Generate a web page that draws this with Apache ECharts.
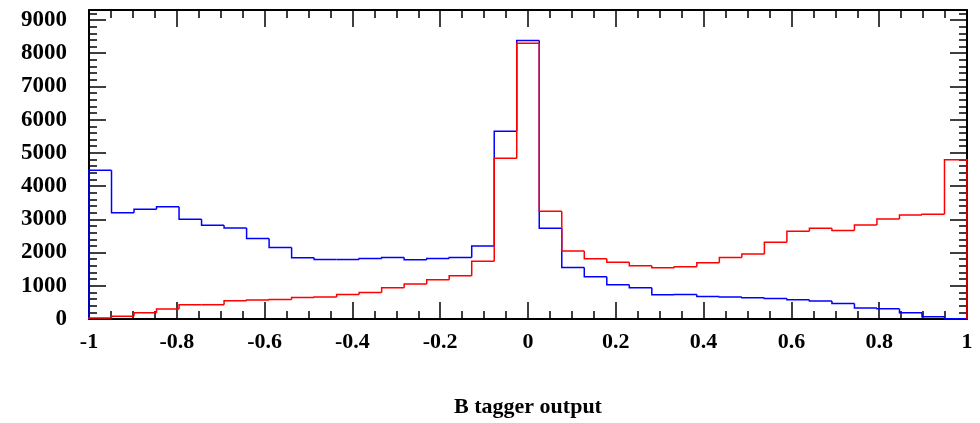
<!DOCTYPE html>
<html>
<head>
<meta charset="utf-8">
<script src="https://cdn.jsdelivr.net/npm/echarts@6/dist/echarts.min.js"></script>
<style>
  html, body { margin: 0; padding: 0; background: #fff; }
  #chart { width: 980px; height: 423px; }
</style>
</head>
<body>
<div id="chart"></div>
<script>
// histogram: 39 bins from -1 to 1
var xMin = -1;
var xMax = 1;
var nBins = 39;

var blueCounts = [4480, 3200, 3300, 3380, 3000, 2820, 2740, 2420, 2150, 1840,
                  1790, 1790, 1820, 1850, 1780, 1820, 1850, 2200, 5650, 8380,
                  2730, 1550, 1270, 1030, 940, 730, 740, 680, 660, 640,
                  620, 580, 540, 470, 330, 310, 190, 70, 10];
var redCounts = [30, 80, 190, 300, 430, 430, 550, 570, 590, 650,
                 660, 740, 800, 940, 1050, 1180, 1300, 1740, 4840, 8300,
                 3240, 2050, 1810, 1710, 1600, 1540, 1570, 1690, 1850, 1960,
                 2310, 2640, 2730, 2660, 2830, 3010, 3130, 3150, 4790];

var xTickLabels = ['-1', '-0.8', '-0.6', '-0.4', '-0.2', '0', '0.2', '0.4', '0.6', '0.8', '1'];
var yTickLabels = ['0', '1000', '2000', '3000', '4000', '5000', '6000', '7000', '8000', '9000'];

// one item per bin: [left edge, right edge, count, previous count, is last]
function binItems(counts){
    var w = (xMax - xMin) / nBins;
    var items = [];
    for (var i = 0; i < counts.length; i++) {
        items.push([xMin + i * w, xMin + (i + 1) * w, counts[i],
                    i > 0 ? counts[i - 1] : 0, i === counts.length - 1 ? 1 : 0]);
    }
    return items;
}

// ROOT style outline: rise/fall at the left edge, flat top, closed to zero at the end
function histRenderer(color){
    return function(params, api){
        var l = api.value(0), r = api.value(1), v = api.value(2), p = api.value(3);
        var pts = [api.coord([l, p]), api.coord([l, v]), api.coord([r, v])];
        if (api.value(4) === 1) pts.push(api.coord([r, 0]));
        return {
            type: 'polyline',
            shape: { points: pts },
            style: { stroke: color, lineWidth: 1.5, fill: null }
        };
    };
}

var font = 'Liberation Serif';
var black = '#000';

function frameX(pos, showLabels){
    return {
        type: 'value',
        position: pos,
        min: xMin,
        max: xMax,
        interval: 0.2,
        name: showLabels ? 'B tagger output' : '',
        nameLocation: 'middle',
        nameGap: 77,
        nameTextStyle: { fontFamily: font, fontWeight: 'bold', fontSize: 22, color: black },
        axisLine: { show: true, onZero: false, lineStyle: { color: black, width: 2 } },
        axisTick: { show: true, inside: true, length: 17, lineStyle: { color: black, width: 1.5 } },
        minorTick: { show: true, splitNumber: 4, length: 8, lineStyle: { color: black, width: 1.5 } },
        axisLabel: {
            show: showLabels,
            margin: 12,
            fontFamily: font, fontWeight: 'bold', fontSize: 22, color: black,
            formatter: function(v){
                var k = Math.round((v - xMin) / 0.2);
                return xTickLabels[k] !== undefined ? xTickLabels[k] : '';
            }
        },
        splitLine: { show: false },
        minorSplitLine: { show: false }
    };
}

function frameY(pos, showLabels){
    return {
        type: 'value',
        position: pos,
        min: 0,
        max: 9300,
        interval: 1000,
        axisLine: { show: true, onZero: false, lineStyle: { color: black, width: 2 } },
        axisTick: { show: true, inside: true, length: 17, lineStyle: { color: black, width: 1.5 } },
        minorTick: { show: true, splitNumber: 5, length: 8, lineStyle: { color: black, width: 1.5 } },
        axisLabel: {
            show: showLabels,
            margin: 22,
            showMaxLabel: false,
            fontFamily: font, fontWeight: 'bold', fontSize: 23, color: black,
            formatter: function(v){
                var k = Math.round(v / 1000);
                return yTickLabels[k] !== undefined ? yTickLabels[k] : '';
            }
        },
        splitLine: { show: false },
        minorSplitLine: { show: false }
    };
}

var chart = echarts.init(document.getElementById('chart'), null, { renderer: 'canvas' });

chart.setOption({
    animation: false,
    backgroundColor: '#fff',
    grid: { left: 89, right: 13, top: 10, bottom: 103 },
    xAxis: [frameX('bottom', true), frameX('top', false)],
    yAxis: [frameY('left', true), frameY('right', false)],
    series: [
        {
            type: 'custom',
            name: 'blue',
            xAxisIndex: 0,
            yAxisIndex: 0,
            renderItem: histRenderer('#0000ff'),
            encode: { x: [0, 1], y: [2, 3] },
            data: binItems(blueCounts),
            z: 2
        },
        {
            type: 'custom',
            name: 'red',
            xAxisIndex: 0,
            yAxisIndex: 0,
            renderItem: histRenderer('#ff0000'),
            encode: { x: [0, 1], y: [2, 3] },
            data: binItems(redCounts),
            z: 3
        }
    ]
});
</script>
</body>
</html>
